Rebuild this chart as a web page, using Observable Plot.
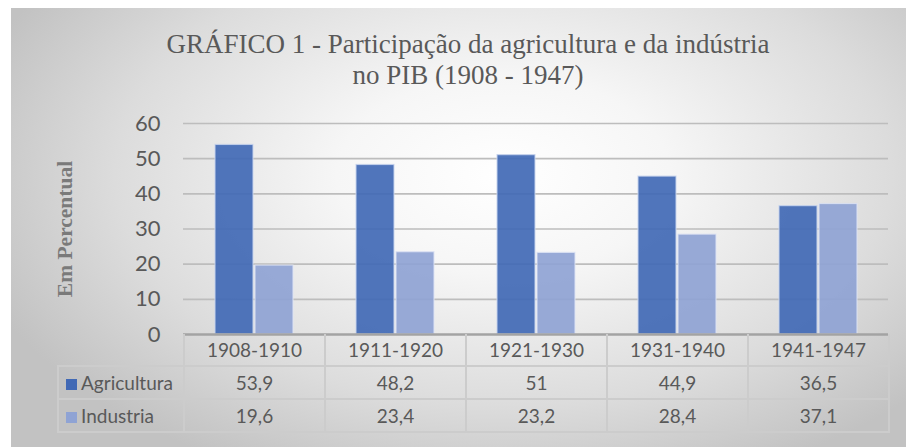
<!DOCTYPE html>
<html><head><meta charset="utf-8">
<script src="https://cdn.jsdelivr.net/npm/d3@7"></script>
<script src="https://cdn.jsdelivr.net/npm/@observablehq/plot@0.6"></script>
<style>
html,body{margin:0;padding:0;background:#fff;}
body{position:relative;width:906px;height:447px;overflow:hidden;}
#box{position:absolute;left:11px;top:8px;width:895px;height:439px;
 background:radial-gradient(ellipse 62% 75% at 55% 38%, #ffffff 0%, #f6f6f6 30%, #dcdcdc 70%, #c2c2c2 100%);}
#title{position:absolute;left:0;width:936px;top:29px;text-align:center;font-family:"Liberation Serif","Times New Roman","DejaVu Serif",serif;font-size:27px;line-height:31px;color:#595959;}
#ylab{position:absolute;left:65px;top:229px;transform:translate(-50%,-50%) rotate(-90deg);white-space:nowrap;font-family:"Liberation Serif","Times New Roman",serif;font-weight:bold;font-size:21.5px;color:#7a7a7a;}
#chart{position:absolute;left:0;top:0;}
#tbl{position:absolute;border-collapse:collapse;table-layout:fixed;font-family:Lato,sans-serif;font-size:19px;color:#595959;}
#tbl td{border:2px solid #cccccc;height:31px;padding:0;text-align:center;white-space:nowrap;}
#tbl tr.hdr td{border-top:none;}
#tbl td.blank{border:none;border-right:2px solid #cccccc;}
#tbl td.leg{text-align:left;padding-left:7px;}
.sw{display:inline-block;width:11px;height:11px;margin-right:4px;vertical-align:0px;}
</style></head>
<body>
<div id="box"></div>
<div id="title">GRÁFICO 1 - Participação da agricultura e da indústria<br>no PIB (1908 - 1947)</div>
<div id="ylab">Em Percentual</div>
<div id="chart"></div>
<table id="tbl"></table>
<script>
const periods = ["1908-1910","1911-1920","1921-1930","1931-1940","1941-1947"];
const seriesNames = ["Agricultura","Industria"];
const agricultura = [53.9, 48.2, 51, 44.9, 36.5];
const industria = [19.6, 23.4, 23.2, 28.4, 37.1];
const yTicks = [0,10,20,30,40,50,60];
const colors = ["#4169b5","#8fa3d4"];

const agriData = periods.map((p,i)=>({period:p, value:agricultura[i]}));
const indData = periods.map((p,i)=>({period:p, value:industria[i]}));

const chart = Plot.plot({
  width: 906, height: 352,
  marginLeft: 183, marginRight: 18, marginTop: 123, marginBottom: 18,
  style: {background:"transparent", fontFamily:"Lato, sans-serif", fontSize:"22px", color:"#595959", overflow:"visible"},
  x: {domain: periods, padding: 0, axis: null},
  y: {domain: [0,60], ticks: yTicks, tickSize: 0, tickPadding: 23, label: null},
  marks: [
    Plot.ruleY(yTicks.filter(d=>d>0), {stroke:"#bdbdbd", strokeWidth:1.6}),
    Plot.barY(agriData, {x:"period", y:"value", fill:colors[0], fillOpacity:0.92, stroke:"#c8d4ee", strokeOpacity:0.8, strokeWidth:1.2, insetLeft:32, insetRight:71}),
    Plot.barY(indData, {x:"period", y:"value", fill:colors[1], fillOpacity:0.92, stroke:"#dde4f4", strokeOpacity:0.8, strokeWidth:1.2, insetLeft:72, insetRight:31}),
    Plot.ruleY([0], {stroke:"#a3a3a3", strokeWidth:2.5})
  ]
});
document.getElementById("chart").appendChild(chart);

// table aligned to the x scale
const xs = chart.scale("x");
const x0 = xs.range[0];
const step = xs.step;
const tblLeft = 57;
const tbl = document.getElementById("tbl");
tbl.style.left = tblLeft + "px";
tbl.style.top = "334px";
const cg = document.createElement("colgroup");
const c0 = document.createElement("col"); c0.style.width = (x0 - tblLeft) + "px"; cg.appendChild(c0);
periods.forEach(()=>{const c=document.createElement("col"); c.style.width = step + "px"; cg.appendChild(c);});
tbl.appendChild(cg);
const fmt = v => String(v).replace(".", ",");
let hdr = document.createElement("tr"); hdr.className = "hdr";
let td = document.createElement("td"); td.className = "blank"; hdr.appendChild(td);
periods.forEach(p=>{const c=document.createElement("td"); c.textContent=p; hdr.appendChild(c);});
tbl.appendChild(hdr);
[agricultura, industria].forEach((vals, si)=>{
  const tr = document.createElement("tr");
  const l = document.createElement("td"); l.className = "leg";
  const sw = document.createElement("span"); sw.className="sw"; sw.style.background = colors[si];
  l.appendChild(sw); l.appendChild(document.createTextNode(seriesNames[si]));
  tr.appendChild(l);
  vals.forEach(v=>{const c=document.createElement("td"); c.textContent = fmt(v); tr.appendChild(c);});
  tbl.appendChild(tr);
});
</script>
</body></html>
